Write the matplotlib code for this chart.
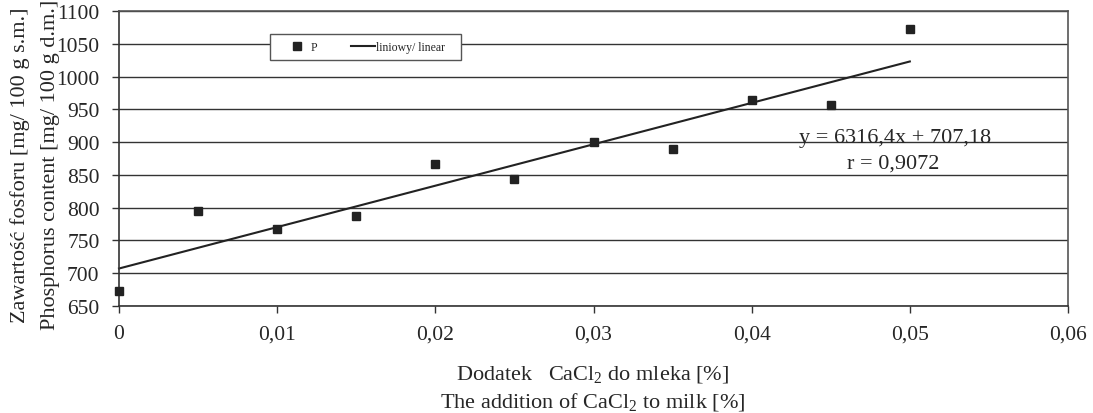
import matplotlib
matplotlib.use("Agg")
import matplotlib.pyplot as plt
from matplotlib.patches import Rectangle
import numpy as np

x_vals = [0, 0.005, 0.01, 0.015, 0.02, 0.025, 0.03, 0.035, 0.04, 0.045, 0.05]
p_vals = [673, 795, 768, 788, 866, 843, 900, 889, 965, 957, 1072]
slope = 6316.4
intercept = 707.18
x_ticks = [0, 0.01, 0.02, 0.03, 0.04, 0.05, 0.06]
x_tick_labels = ["0", "0,01", "0,02", "0,03", "0,04", "0,05", "0,06"]
y_ticks = list(range(650, 1101, 50))

plt.rcParams['font.family'] = ['Liberation Serif', 'DejaVu Serif']
plt.rcParams['mathtext.fontset'] = 'custom'
plt.rcParams['mathtext.rm'] = 'Liberation Serif'
plt.rcParams['mathtext.it'] = 'Liberation Serif:italic'
plt.rcParams['mathtext.default'] = 'rm'

TXT = '#262626'
W, H = 1093, 414

fig = plt.figure(figsize=(10.93, 4.14), dpi=100)
ax = fig.add_axes([119/W, 1 - 307/H, (1068-119)/W, (307-12)/H])

ax.set_xlim(0, 0.06)
ax.set_ylim(650, 1100)
ax.set_yticks(y_ticks)
ax.set_xticks(x_ticks)
ax.set_xticklabels(x_tick_labels)
ax.grid(axis='y', color='#333333', linewidth=1.0)
ax.set_axisbelow(True)
for s in ax.spines.values():
    s.set_color('#555555')
    s.set_linewidth(1.2)
ax.spines['left'].set_color('#333333')
ax.spines['bottom'].set_color('#333333')
ax.tick_params(axis='both', labelsize=15.5, colors='#333333', labelcolor=TXT, length=5, width=1)
ax.tick_params(axis='x', pad=8)
ax.tick_params(axis='y', pad=9)

lx = np.array([0, 0.05])
line, = ax.plot(lx, slope*lx + intercept, color='#222222', linewidth=1.5, label='liniowy/ linear', clip_on=False)
pts, = ax.plot(x_vals, p_vals, linestyle='none', marker='s', markersize=5.5, color='#222222', label='P', clip_on=False, zorder=5)

# legend frame
frame = Rectangle((270/W, 1 - 61/H), (461-270)/W, (61-35)/H, transform=fig.transFigure,
                  facecolor='white', edgecolor='#555555', linewidth=1.0, zorder=6, clip_on=False)
ax.add_patch(frame)
leg = ax.legend(handles=[pts, line], loc='center left', bbox_to_anchor=((277-119)/949, 1 - (48-12)/295), ncol=2,
                fontsize=8.5, frameon=False, handlelength=2.0,
                handletextpad=0.15, columnspacing=2.85, borderpad=0.7, borderaxespad=0)
leg.set_zorder(10)
for t in leg.get_texts():
    t.set_color(TXT)

fig.text(895/W, 1 - 139/H, "y = 6316,4x + 707,18", ha='center', va='center', fontsize=16, color=TXT)
fig.text(893/W, 1 - 164/H, "r = 0,9072", ha='center', va='center', fontsize=16, color=TXT)

fig.text(593/W, 1 - 375/H, "Dodatek   CaCl$_2$ do mleka [%]", ha='center', va='center', fontsize=16, color=TXT)
fig.text(593/W, 1 - 402/H, "The addition of CaCl$_2$ to milk [%]", ha='center', va='center', fontsize=16, color=TXT)

fig.text(20/W, 1 - 165/H, "Zawartość fosforu [mg/ 100 g s.m.]", rotation=90, ha='center', va='center', fontsize=16, color=TXT)
fig.text(50/W, 1 - 165/H, "Phosphorus content [mg/ 100 g d.m.]", rotation=90, ha='center', va='center', fontsize=16, color=TXT)

fig.savefig("out.png", dpi=100)
